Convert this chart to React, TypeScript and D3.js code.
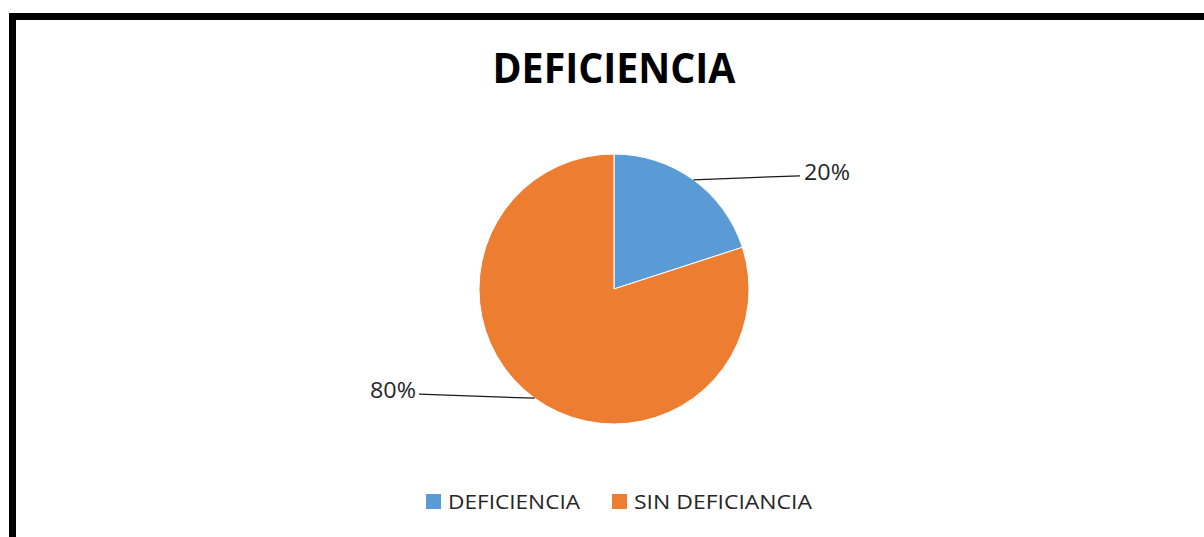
import React from 'react';
import * as d3 from 'd3';

const categories = ['DEFICIENCIA', 'SIN DEFICIANCIA'];
const values = [20, 80];
const colors = ['#5B9BD5', '#ED7D31'];
const title = 'DEFICIENCIA';

const W = 1204;
const H = 537;

const App: React.FC = () => {
  const svgRef = React.useRef<SVGSVGElement | null>(null);

  React.useEffect(() => {
    const svg = d3.select(svgRef.current);
    svg.selectAll('*').remove();

    // outer frame (cut off at right and bottom like the screenshot)
    svg
      .append('rect')
      .attr('x', 12.5)
      .attr('y', 16.5)
      .attr('width', W + 20)
      .attr('height', H + 20)
      .attr('fill', '#fff')
      .attr('stroke', '#000')
      .attr('stroke-width', 7);

    svg
      .append('text')
      .attr('x', 614)
      .attr('y', 83)
      .attr('text-anchor', 'middle')
      .attr('font-family', 'Open Sans, sans-serif')
      .attr('font-weight', 700)
      .attr('font-size', 41)
      .attr('textLength', 243)
      .attr('lengthAdjust', 'spacingAndGlyphs')
      .attr('fill', '#000')
      .text(title);

    const cx = 614;
    const cy = 289;
    const r = 135;
    const total = d3.sum(values);

    const pie = d3
      .pie<number>()
      .sort(null)
      .value((d) => d);
    const arcs = pie(values);
    const arc = d3.arc<d3.PieArcDatum<number>>().innerRadius(0).outerRadius(r);

    const g = svg.append('g').attr('transform', `translate(${cx},${cy})`);
    g.selectAll('path')
      .data(arcs)
      .join('path')
      .attr('d', arc)
      .attr('fill', (_, i) => colors[i])
      .attr('stroke', '#fff')
      .attr('stroke-width', 1);

    // data labels with leader lines
    arcs.forEach((a) => {
      const mid = (a.startAngle + a.endAngle) / 2;
      const sx = Math.sin(mid) * r;
      const sy = -Math.cos(mid) * r;
      const right = sx > 0;
      const ex = right ? 186 : -195;
      const ey = sy - 4;
      g.append('polyline')
        .attr('points', `${sx},${sy} ${ex},${ey}`)
        .attr('fill', 'none')
        .attr('stroke', '#1a1a1a')
        .attr('stroke-width', 1.3);
      g.append('text')
        .attr('x', right ? ex + 4 : ex - 3)
        .attr('y', ey + 4)
        .attr('text-anchor', right ? 'start' : 'end')
        .attr('font-family', 'Open Sans, sans-serif')
        .attr('font-size', 21)
        .attr('textLength', 46)
        .attr('lengthAdjust', 'spacingAndGlyphs')
        .attr('fill', '#262626')
        .text(`${Math.round((a.data / total) * 100)}%`);
    });

    // legend
    const legendX = [426, 612];
    const legendW = [132, 178];
    const lg = svg.append('g');
    categories.forEach((c, i) => {
      lg.append('rect')
        .attr('x', legendX[i])
        .attr('y', 494)
        .attr('width', 15)
        .attr('height', 15)
        .attr('fill', colors[i]);
      lg.append('text')
        .attr('x', legendX[i] + 22)
        .attr('y', 509)
        .attr('font-family', 'Open Sans, sans-serif')
        .attr('font-size', 20)
        .attr('textLength', legendW[i])
        .attr('lengthAdjust', 'spacingAndGlyphs')
        .attr('fill', '#262626')
        .text(c);
    });
  }, []);

  return (
    <svg
      ref={svgRef}
      width={W}
      height={H}
      style={{ position: 'absolute', left: 0, top: 0, display: 'block' }}
    />
  );
};

export default App;
